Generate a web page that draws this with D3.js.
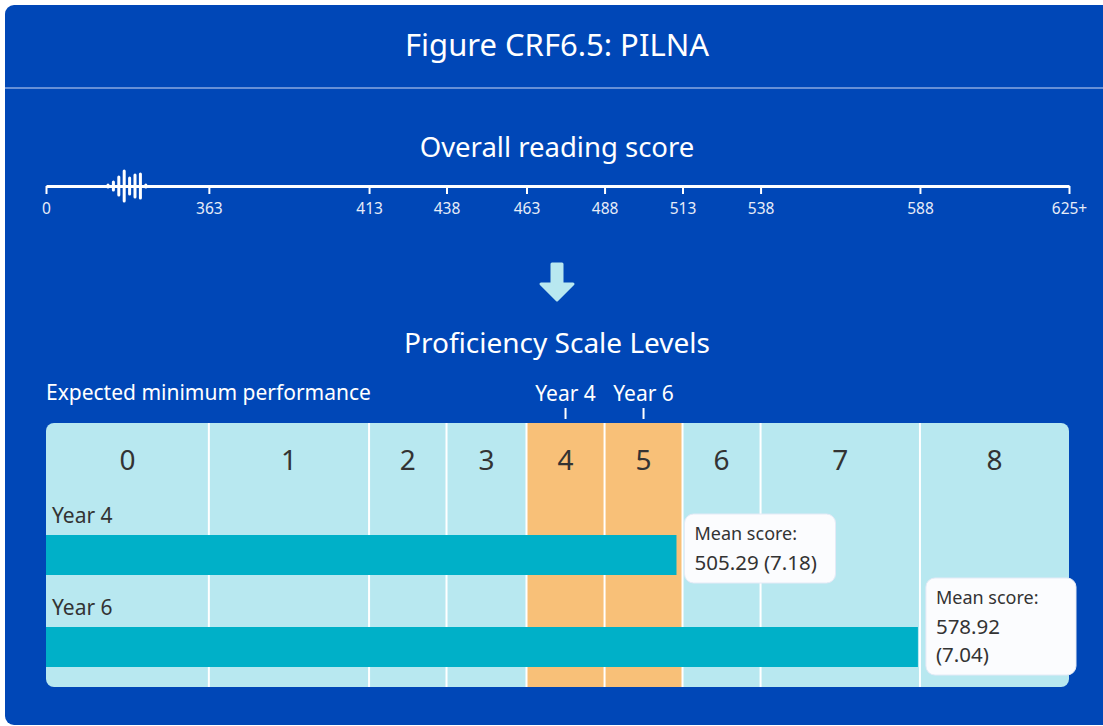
<!DOCTYPE html>
<html>
<head>
<meta charset="utf-8">
<script src="https://cdn.jsdelivr.net/npm/d3@7"></script>
<style>
  body { margin: 0; background: #fff; }
  svg { display: block; font-family: "Noto Sans", sans-serif; }
</style>
</head>
<body>
<script>
// chart data
const levels = ['0', '1', '2', '3', '4', '5', '6', '7', '8'];
const cutScores = [0, 363, 413, 438, 463, 488, 513, 538, 588, 625];
const tickLabels = ['0', '363', '413', '438', '463', '488', '513', '538', '588', '625+'];
const years = ['Year 4', 'Year 6'];
const meanScores = [505.29, 578.92];
const stdErrors = [7.18, 7.04];
const expectedLevels = ['4', '5'];
// little distribution glyph on the score line (relative heights)
const glyphHeights = [1, 4, 9, 15, 8, 11, 12, 1];

let width = 1103;
let height = 726;

let svg = d3.select("body").append("svg")
    .attr("width", width)
    .attr("height", height);

// background card
svg.append("rect")
    .attr("x", 5).attr("y", 5)
    .attr("width", width + 10).attr("height", height - 6)
    .attr("rx", 9)
    .attr("fill", "#0047b7");

svg.append("line")
    .attr("x1", 5).attr("x2", width)
    .attr("y1", 88).attr("y2", 88)
    .attr("stroke", "#6790d6").attr("stroke-width", 2);

svg.append("text")
    .attr("x", 557).attr("y", 56)
    .attr("text-anchor", "middle")
    .attr("fill", "#fff")
    .style("font-size", "31px")
    .text("Figure CRF6.5: PILNA");

svg.append("text")
    .attr("x", 557).attr("y", 157)
    .attr("text-anchor", "middle")
    .attr("fill", "#fff")
    .style("font-size", "27.5px")
    .text("Overall reading score");

// level boundaries (piecewise scale) and bar scale
let left = 46, right = 1069;
let x = d3.scaleLinear()
    .domain(cutScores)
    .range([0, 0.1592, 0.3158, 0.3915, 0.4697, 0.5460, 0.6222, 0.6985, 0.8543, 1].map(f => left + f * (right - left)));
let xBar = d3.scaleLinear()
    .domain([313, 625])
    .range([left, right]);

// score axis
let axisY = 186;
let axis = d3.axisBottom(x)
    .tickValues(cutScores)
    .tickFormat((d, i) => tickLabels[i])
    .tickSize(8)
    .tickSizeOuter(0)
    .tickPadding(9);
let ax = svg.append("g")
    .attr("transform", "translate(0," + axisY + ")")
    .call(axis);
ax.select(".domain").attr("stroke", "#fff").attr("stroke-width", 3);
ax.selectAll(".tick line").attr("stroke", "#fff").attr("stroke-width", 2);
ax.selectAll(".tick text")
    .attr("fill", "#e6ecf8")
    .style("font-size", "15.5px")
    .style("font-family", "Noto Sans, sans-serif");

svg.append("g")
    .selectAll("line")
    .data(glyphHeights)
    .enter()
    .append("line")
    .attr("x1", (d, i) => 108 + i * 5.4)
    .attr("x2", (d, i) => 108 + i * 5.4)
    .attr("y1", d => axisY - d)
    .attr("y2", d => axisY + d)
    .attr("stroke", "#fff")
    .attr("stroke-width", 3)
    .attr("stroke-linecap", "round");

// down arrow
svg.append("path")
    .attr("d", "M552,264 L562,264 L562,284 L573,284 L557,300 L541,284 L552,284 Z")
    .attr("fill", "#b8e8f0")
    .attr("stroke", "#b8e8f0")
    .attr("stroke-width", 3)
    .attr("stroke-linejoin", "round");

svg.append("text")
    .attr("x", 557).attr("y", 353)
    .attr("text-anchor", "middle")
    .attr("fill", "#fff")
    .style("font-size", "28px")
    .text("Proficiency Scale Levels");

svg.append("text")
    .attr("x", left).attr("y", 400)
    .attr("fill", "#fff")
    .style("font-size", "21px")
    .text("Expected minimum performance");

let levelMid = i => (x(cutScores[i]) + x(cutScores[i + 1])) / 2;

expectedLevels.forEach((lv, i) => {
    let cx = levelMid(levels.indexOf(lv));
    svg.append("text")
        .attr("x", cx).attr("y", 401)
        .attr("text-anchor", "middle")
        .attr("fill", "#fff")
        .style("font-size", "21px")
        .text(years[i]);
    svg.append("line")
        .attr("x1", cx).attr("x2", cx)
        .attr("y1", 408).attr("y2", 419)
        .attr("stroke", "#fff").attr("stroke-width", 2);
});

// levels panel
let panelTop = 423, panelBottom = 687;
svg.append("clipPath").attr("id", "panelClip")
    .append("rect")
    .attr("x", left).attr("y", panelTop)
    .attr("width", right - left).attr("height", panelBottom - panelTop)
    .attr("rx", 8);

let panel = svg.append("g").attr("clip-path", "url(#panelClip)");

panel.selectAll("rect.level")
    .data(levels)
    .enter()
    .append("rect")
    .attr("class", "level")
    .attr("x", (d, i) => x(cutScores[i]))
    .attr("y", panelTop)
    .attr("width", (d, i) => x(cutScores[i + 1]) - x(cutScores[i]))
    .attr("height", panelBottom - panelTop)
    .attr("fill", d => expectedLevels.includes(d) ? "#f8c078" : "#b8e8f0");

panel.selectAll("line.sep")
    .data(cutScores.slice(1, -1))
    .enter()
    .append("line")
    .attr("class", "sep")
    .attr("x1", d => x(d)).attr("x2", d => x(d))
    .attr("y1", panelTop).attr("y2", panelBottom)
    .attr("stroke", "#fff").attr("stroke-width", 2);

panel.selectAll("text.lvl")
    .data(levels)
    .enter()
    .append("text")
    .attr("class", "lvl")
    .attr("x", (d, i) => levelMid(i))
    .attr("y", 470)
    .attr("text-anchor", "middle")
    .attr("fill", "#333")
    .style("font-size", "28px")
    .text(d => d);

// bars
let barH = 40;
let barTop = i => 535 + i * 92;

years.forEach((yr, i) => {
    svg.append("text")
        .attr("x", 52).attr("y", barTop(i) - 12)
        .attr("fill", "#333")
        .style("font-size", "21px")
        .text(yr);
    svg.append("rect")
        .attr("x", left).attr("y", barTop(i))
        .attr("width", xBar(meanScores[i]) - left)
        .attr("height", barH)
        .attr("fill", "#00b0c8");
});

// mean score labels: wrap the value when the box would run past the panel
let boxW = 151;
let lineGap = 28;
years.forEach((yr, i) => {
    let bx = xBar(meanScores[i]) + 8;
    let value = meanScores[i].toFixed(2) + " (" + stdErrors[i].toFixed(2) + ")";
    let wrap = bx + boxW > right;
    let lines = wrap ? value.split(" ") : [value];
    let w = wrap ? Math.min(boxW, width - 27 - bx) : boxW;
    let boxH = 69 + (lines.length - 1) * lineGap;
    let by = barTop(i) + barH + 8 - boxH;
    let g = svg.append("g");
    g.append("rect").attr("rx", 9)
        .attr("x", bx).attr("y", by)
        .attr("width", w).attr("height", boxH)
        .attr("fill", "#fbfcfe")
        .attr("stroke", "#e4eaf6").attr("stroke-width", 1);
    g.append("text")
        .attr("x", bx + 10).attr("y", by + 26)
        .attr("fill", "#333")
        .style("font-size", "18px")
        .text("Mean score:");
    g.selectAll("text.val")
        .data(lines)
        .enter()
        .append("text")
        .attr("class", "val")
        .attr("x", bx + 10)
        .attr("y", (d, j) => by + 56 + j * lineGap)
        .attr("fill", "#333")
        .style("font-size", "20.5px")
        .text(d => d);
});
</script>
</body>
</html>
